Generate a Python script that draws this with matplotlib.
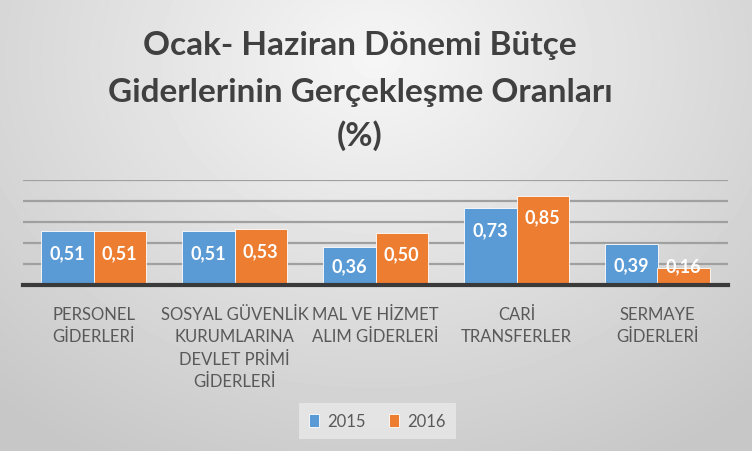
import numpy as np
import matplotlib
matplotlib.use("Agg")
import matplotlib.pyplot as plt

categories = [
    "PERSONEL\nGİDERLERİ",
    "SOSYAL GÜVENLİK\nKURUMLARINA\nDEVLET PRİMİ\nGİDERLERİ",
    "MAL VE HİZMET\nALIM GİDERLERİ",
    "CARİ\nTRANSFERLER",
    "SERMAYE\nGİDERLERİ",
]
years = ["2015", "2016"]
vals_2015 = [0.51, 0.51, 0.36, 0.73, 0.39]
vals_2016 = [0.51, 0.53, 0.50, 0.85, 0.16]
title_lines = ["Ocak- Haziran Dönemi Bütçe", "Giderlerinin Gerçekleşme Oranları", "(%)"]

BLUE = "#5B9BD5"
ORANGE = "#ED7D31"
TEXT = "#595959"

plt.rcParams["font.family"] = ["Lato", "DejaVu Sans"]

fig = plt.figure(figsize=(7.52, 4.52), dpi=100)

# radial grey background
bg = fig.add_axes([0, 0, 1, 1], zorder=-10)
yy, xx = np.mgrid[0:452, 0:752]
r = np.sqrt(((xx - 376) / 520.0) ** 2 + ((yy - 60) / 420.0) ** 2)
shade = np.clip(0.965 - 0.17 * r, 0.78, 1)
bg.imshow(shade, cmap="gray", vmin=0, vmax=1, aspect="auto", extent=[0, 1, 0, 1])
bg.set_axis_off()

ax = fig.add_axes([23 / 752, 1 - 286 / 452, 705 / 752, 105 / 452])
ax.patch.set_alpha(0)
x = np.arange(len(categories))
w = 0.37
b1 = ax.bar(x - w / 2, vals_2015, w, color=BLUE, label=years[0], zorder=3,
            edgecolor="white", linewidth=0.6)
b2 = ax.bar(x + w / 2, vals_2016, w, color=ORANGE, label=years[1], zorder=3,
            edgecolor="white", linewidth=0.6)

for bars, vals in ((b1, vals_2015), (b2, vals_2016)):
    for bar, v in zip(bars, vals):
        ax.text(bar.get_x() + bar.get_width() / 2, max(v - 0.2, 0.18),
                f"{v:.2f}".replace(".", ","), ha="center", va="center",
                color="white", fontsize=13, fontweight="bold", zorder=4)

ax.set_xlim(-0.5, len(categories) - 0.5)
ax.set_ylim(0, 1.0)
ax.set_yticks(np.arange(0.2, 1.01, 0.2))
ax.yaxis.grid(True, color="#A0A0A0", linewidth=1.6, zorder=0)
ax.set_yticklabels([])
ax.tick_params(length=0)
for s in ("top", "right", "left"):
    ax.spines[s].set_visible(False)
ax.spines["bottom"].set_color("#3A3A3A")
ax.spines["bottom"].set_linewidth(3)
ax.spines["bottom"].set_zorder(5)
ax.set_xticks(x)
ax.set_xticklabels(categories, color=TEXT, fontsize=12, linespacing=1.5,
                   va="top")
ax.tick_params(axis="x", pad=15)

title_base = [55, 102, 146]
for line, ty in zip(title_lines, title_base):
    fig.text(360 / 752, 1 - ty / 452, line, ha="center", va="baseline",
             fontsize=24, fontweight="bold", color="#404040")

leg = fig.legend(handles=[b1, b2], labels=years, loc="center",
                 bbox_to_anchor=(377 / 752, 1 - 422 / 452), ncol=2,
                 frameon=True, fontsize=12, handlelength=0.6, handleheight=0.8,
                 handletextpad=0.5, columnspacing=1.4, borderpad=0.6)
leg.get_frame().set_facecolor("#E9E9E9")
leg.get_frame().set_edgecolor("none")
leg.get_frame().set_alpha(0.8)
leg.get_frame().set_boxstyle("square", pad=0)
for t in leg.get_texts():
    t.set_color(TEXT)

fig.savefig("out.png", dpi=100)
